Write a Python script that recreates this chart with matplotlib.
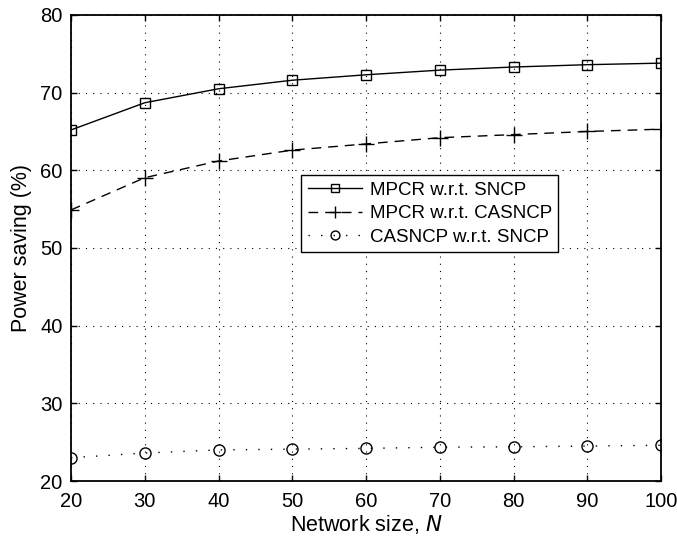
import matplotlib.pyplot as plt

plt.rcParams['font.family'] = ['Liberation Sans', 'DejaVu Sans']

network_size = [20, 30, 40, 50, 60, 70, 80, 90, 100]
mpcr_sncp = [65.2, 68.7, 70.5, 71.6, 72.3, 72.9, 73.3, 73.6, 73.8]
mpcr_casncp = [54.9, 59.05, 61.2, 62.6, 63.4, 64.2, 64.6, 65.0, 65.3]
casncp_sncp = [23.0, 23.6, 24.0, 24.1, 24.2, 24.35, 24.4, 24.5, 24.6]

fig = plt.figure(figsize=(6.77, 5.39), dpi=100)
ax = fig.add_axes([0.1049, 0.1076, 0.8715, 0.8646])

ax.plot(network_size, mpcr_sncp, color='black', linestyle='-', linewidth=1.0,
        marker='s', markersize=7, markerfacecolor='none', markeredgewidth=1.0,
        label='MPCR w.r.t. SNCP')
ax.plot(network_size, mpcr_casncp, color='black', linestyle=(0, (7, 5)), linewidth=1.0,
        marker='+', markersize=11, markeredgewidth=1.0,
        label='MPCR w.r.t. CASNCP')
ax.plot(network_size, casncp_sncp, color='black', linestyle=(0, (1, 8)), linewidth=1.0,
        marker='o', markersize=8, markerfacecolor='none', markeredgewidth=1.0,
        label='CASNCP w.r.t. SNCP')

ax.set_xlim(20, 100)
ax.set_ylim(20, 80)
ax.set_xticks(network_size)
ax.set_yticks([20, 30, 40, 50, 60, 70, 80])
ax.grid(True, color='black', linestyle=(0, (1, 5.5)), linewidth=0.8)
ax.tick_params(direction='in', top=True, right=True, labelsize=14.5, length=4, width=1.0)
ax.tick_params(axis='x', pad=8)
ax.tick_params(axis='y', pad=6)
for sp in ax.spines.values():
    sp.set_linewidth(1.3)

ax.set_xlabel('Network size, $\\mathit{N}$', fontsize=15.5, labelpad=1)
ax.set_ylabel('Power saving (%)', fontsize=15.5, labelpad=6)

leg = ax.legend(loc='upper left', bbox_to_anchor=(0.39, 0.657), fontsize=13.5,
                frameon=True, fancybox=False, edgecolor='black', framealpha=1,
                handlelength=2.9, handletextpad=0.4, borderpad=0.35, labelspacing=0.35,
                borderaxespad=0, markerscale=0.8)
leg.get_frame().set_linewidth(1.0)

fig.savefig('out.png', dpi=100)
